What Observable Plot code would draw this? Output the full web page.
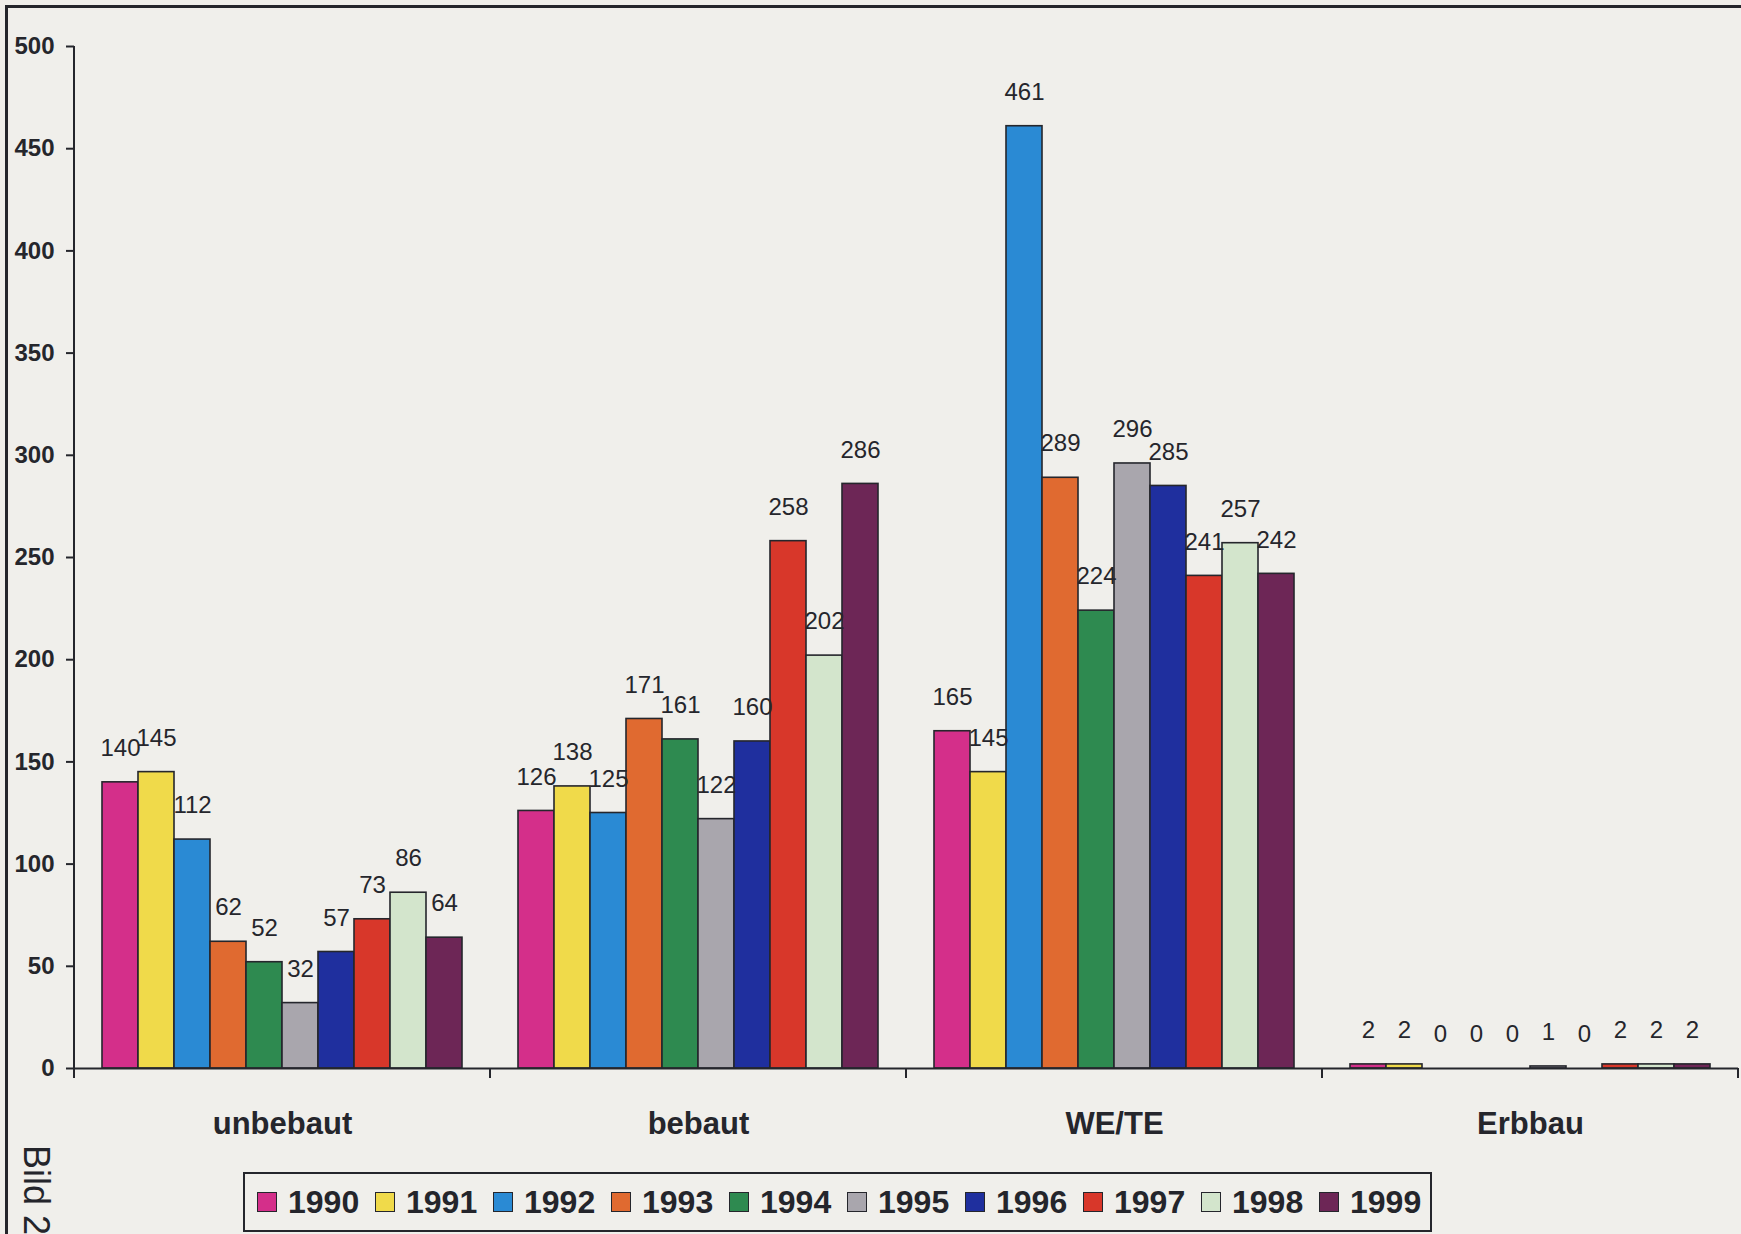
<!DOCTYPE html>
<html><head><meta charset="utf-8">
<script src="https://cdn.jsdelivr.net/npm/d3@7"></script>
<script src="https://cdn.jsdelivr.net/npm/@observablehq/plot@0.6"></script>
<style>
html,body{margin:0;padding:0;background:#f0efeb;width:1741px;height:1234px;overflow:hidden;font-family:"Liberation Sans",Arial,sans-serif;color:#24252b}
#wrap{position:relative;width:1741px;height:1234px;}
#chart{position:absolute;left:0;top:0}
#frame{position:absolute;left:5px;top:5px;width:1800px;height:1300px;border:3px solid #25262c;box-sizing:border-box}
#legend{position:absolute;left:243px;top:1172px;width:1189px;height:60px;border:2px solid #25262c;box-sizing:border-box;display:flex;align-items:center;padding-left:12px}
.item{width:118px;display:flex;align-items:center;flex:none}
.sw{width:20px;height:20px;border:1.5px solid #25262c;box-sizing:border-box;margin-right:11px;flex:none}
.lab{font-size:32px;font-weight:bold;line-height:1}
#bild{position:absolute;left:54px;top:1145px;transform-origin:0 0;transform:rotate(90deg);font-size:36px;line-height:36px;white-space:nowrap}
</style>
</head>
<body>
<div id="wrap">
  <div id="chart"></div>
  <div id="frame"></div>
  <div id="legend"></div>
  <div id="bild">Bild 2</div>
</div>
<script>
const categories = ["unbebaut", "bebaut", "WE/TE", "Erbbau"];
const years = ["1990","1991","1992","1993","1994","1995","1996","1997","1998","1999"];
const colors = ["#d42f8a","#f0da4a","#2a8ad4","#e06a30","#2e8a50","#a9a6ad","#1f2f9e","#d8372a","#d3e5cc","#6d2656"];
const unbebaut = [140,145,112,62,52,32,57,73,86,64];
const bebaut   = [126,138,125,171,161,122,160,258,202,286];
const wete     = [165,145,461,289,224,296,285,241,257,242];
const erbbau   = [2,2,0,0,0,1,0,2,2,2];
const yTicks = [0,50,100,150,200,250,300,350,400,450,500];

const series = {"unbebaut": unbebaut, "bebaut": bebaut, "WE/TE": wete, "Erbbau": erbbau};
const rows = [];
for (const c of categories) years.forEach((y, i) => rows.push({cat: c, year: y, value: series[c][i]}));

const ink = "#25262c";
const chart = Plot.plot({
  width: 1741, height: 1234,
  marginLeft: 73, marginRight: 2, marginTop: 46, marginBottom: 166,
  style: {background: "transparent", fontFamily: "Liberation Sans, Arial, sans-serif", color: ink},
  fx: {domain: categories, padding: 0, axis: null, label: null},
  x: {domain: years, paddingInner: 0, paddingOuter: 0.714, axis: null},
  y: {domain: [0, 500], axis: null},
  color: {domain: years, range: colors},
  marks: [
    Plot.axisY({ticks: yTicks, tickSize: 8, tickPadding: 12, fontSize: 24, fontWeight: "bold", strokeWidth: 2, label: null}),
    Plot.axisFx({anchor: "bottom", tickSize: 0, tickPadding: 43, fontSize: 31, fontWeight: "bold", label: null}),
    Plot.barY(rows, {fx: "cat", x: "year", y: "value", fill: "year", stroke: ink, strokeWidth: 1.6}),
    Plot.ruleY([0], {stroke: ink, strokeWidth: 2}),
    Plot.text(rows, {fx: "cat", x: "year", y: "value", text: d => String(d.value), dy: -34, fontSize: 24, fill: ink})
  ]
});
document.getElementById("chart").appendChild(chart);

// axis line and category separator ticks from the library's scales
const fxS = chart.scale("fx"), yS = chart.scale("y");
const edges = categories.map(c => fxS.apply(c));
edges.push(fxS.apply(categories[categories.length - 1]) + fxS.bandwidth);
const y0 = yS.apply(0), yTop = yS.apply(500);
const g = d3.select(chart).append("g").attr("stroke", ink).attr("stroke-width", 2);
g.append("line").attr("x1", edges[0]).attr("x2", edges[0]).attr("y1", yTop).attr("y2", y0);
g.selectAll("line.sep").data(edges).join("line").attr("class", "sep")
  .attr("x1", d => d).attr("x2", d => d).attr("y1", y0).attr("y2", y0 + 10);

// legend
const leg = d3.select("#legend");
years.forEach((y, i) => {
  const it = leg.append("div").attr("class", "item");
  it.append("div").attr("class", "sw").style("background", colors[i]);
  it.append("span").attr("class", "lab").text(y);
});
</script>
</body></html>
